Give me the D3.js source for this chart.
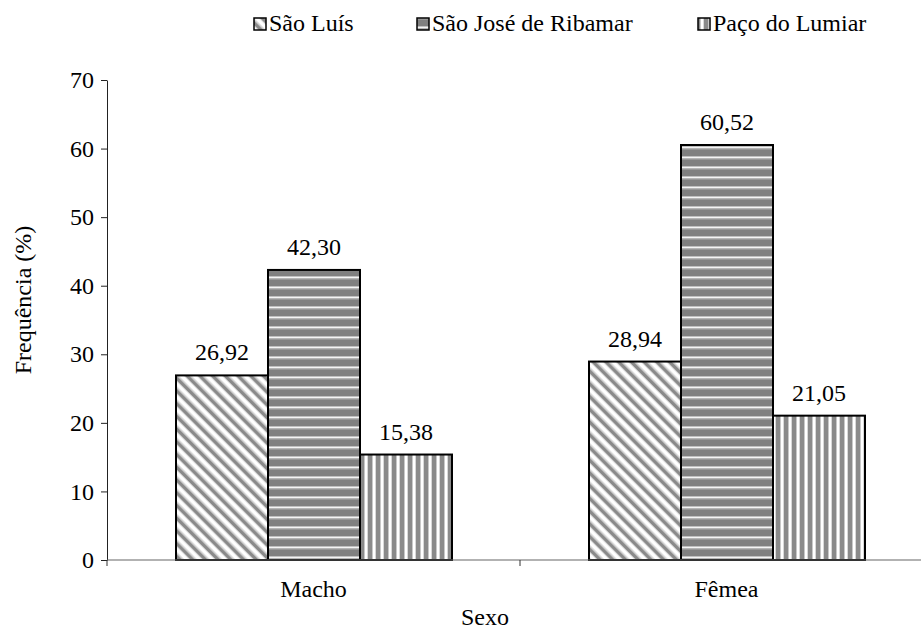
<!DOCTYPE html>
<html><head><meta charset="utf-8">
<script src="https://cdn.jsdelivr.net/npm/d3@7"></script>
<style>body{margin:0;background:#fff}svg{display:block}</style>
</head><body>
<svg id="c" width="921" height="635" style="font-family:'Liberation Serif',serif"></svg>
<script>
const categories = ["Macho", "Fêmea"];
const seriesNames = ["São Luís", "São José de Ribamar", "Paço do Lumiar"];
const saoLuis = [26.92, 28.94];
const saoJose = [42.30, 60.52];
const pacoLumiar = [15.38, 21.05];
const yTicks = [0, 10, 20, 30, 40, 50, 60, 70];
const labels = [["26,92", "28,94"], ["42,30", "60,52"], ["15,38", "21,05"]];

const STYLE = "font-family:'Liberation Serif',serif;font-size:24px";
const series = [saoLuis, saoJose, pacoLumiar];
const patIds = ["pSL", "pSJ", "pPL"];
const svg = d3.select("#c");
const defs = svg.append("defs");

function txt(sel) {
  return sel.attr("style", STYLE).attr("fill", "#000");
}

// diagonal "\" stripes
const p1 = defs.append("pattern").attr("id","pSL").attr("patternUnits","userSpaceOnUse")
  .attr("width",9).attr("height",9).attr("patternTransform","rotate(-45)");
p1.append("rect").attr("width",9).attr("height",9).attr("fill","#fff");
p1.append("rect").attr("x",0).attr("width",3.5).attr("height",9).attr("fill","#8a8a8a");
p1.append("rect").attr("x",3.5).attr("width",1).attr("height",9).attr("fill","#c4c4c4");
p1.append("rect").attr("x",8.2).attr("width",0.8).attr("height",9).attr("fill","#d4d4d4");
// horizontal lines on gray
const p2 = defs.append("pattern").attr("id","pSJ").attr("patternUnits","userSpaceOnUse")
  .attr("width",10).attr("height",10);
p2.append("rect").attr("width",10).attr("height",10).attr("fill","#808080");
p2.append("rect").attr("y",6).attr("width",10).attr("height",1).attr("fill","#c0c0c0");
p2.append("rect").attr("y",7).attr("width",10).attr("height",1.5).attr("fill","#f4f4f4");
p2.append("rect").attr("y",8.5).attr("width",10).attr("height",1).attr("fill","#b0b0b0");
// vertical stripes
const p3 = defs.append("pattern").attr("id","pPL").attr("patternUnits","userSpaceOnUse")
  .attr("width",8).attr("height",8);
p3.append("rect").attr("width",8).attr("height",8).attr("fill","#fff");
p3.append("rect").attr("x",0).attr("width",4).attr("height",8).attr("fill","#8a8a8a");
p3.append("rect").attr("x",4).attr("width",1).attr("height",8).attr("fill","#c8c8c8");
p3.append("rect").attr("x",7).attr("width",1).attr("height",8).attr("fill","#d8d8d8");

const x0 = d3.scaleBand().domain(categories).range([107, 933]).paddingInner(0).paddingOuter(0);
const x1 = d3.scaleBand().domain(d3.range(3)).range([69, 345]).padding(0);
const y = d3.scaleLinear().domain([0, 70]).range([560, 80]);

// Y axis
const ya = svg.append("g").attr("transform","translate(107,0)")
  .call(d3.axisLeft(y).tickValues(yTicks).tickSize(6).tickPadding(7).tickSizeOuter(0));
ya.attr("font-family", "Liberation Serif").attr("font-size", 24);
ya.select(".domain").attr("stroke","#222");
ya.selectAll(".tick line").attr("stroke","#222");
txt(ya.selectAll("text"));

// bars
categories.forEach((c, ci) => {
  series.forEach((s, si) => {
    svg.append("rect")
      .attr("x", x0(c) + x1(si))
      .attr("y", y(s[ci]))
      .attr("width", x1.bandwidth())
      .attr("height", y(0) - y(s[ci]))
      .attr("fill", `url(#${patIds[si]})`)
      .attr("stroke", "#000").attr("stroke-width", 2);
    txt(svg.append("text")
      .attr("x", x0(c) + x1(si) + x1.bandwidth()/2)
      .attr("y", y(s[ci]) - 15)
      .attr("text-anchor","middle"))
      .text(labels[si][ci]);
  });
});

// X axis
const xa = svg.append("g").attr("transform","translate(0,560)");
xa.append("line").attr("x1",107).attr("x2",933).attr("stroke","#666").attr("stroke-width",1.2);
[107, 520, 933].forEach(t => xa.append("line").attr("x1",t).attr("x2",t).attr("y1",0).attr("y2",6).attr("stroke","#333"));
categories.forEach(c => {
  txt(xa.append("text").attr("x", x0(c) + x0.bandwidth()/2).attr("y", 37)
    .attr("text-anchor","middle")).text(c);
});

// titles
txt(svg.append("text").attr("x", 485).attr("y", 625).attr("text-anchor","middle")).text("Sexo");
txt(svg.append("text").attr("transform","translate(31,300) rotate(-90)").attr("text-anchor","middle")).text("Frequência (%)");

// legend
const legX = [254, 417, 698];
seriesNames.forEach((n, i) => {
  svg.append("rect").attr("x", legX[i]).attr("y", 18).attr("width", 12).attr("height", 12)
    .attr("fill", `url(#${patIds[i]})`).attr("stroke","#000").attr("stroke-width",1.5);
  txt(svg.append("text").attr("x", legX[i] + 15).attr("y", 31)).text(n);
});
</script>
</body></html>
